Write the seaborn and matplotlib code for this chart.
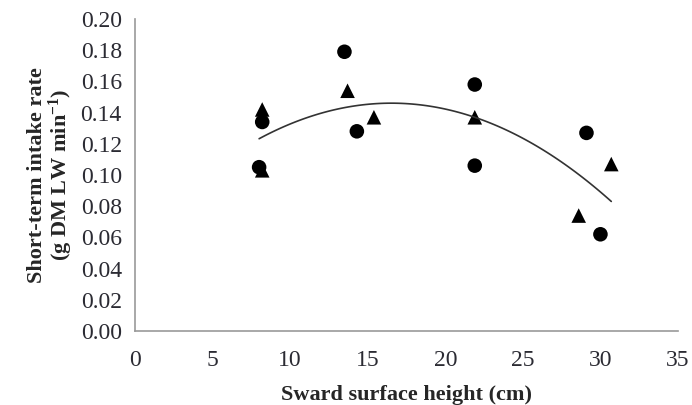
import pandas as pd
import numpy as np
import seaborn as sns
import matplotlib.pyplot as plt

# circles
circle_x = [8.2, 8.0, 13.5, 14.3, 21.9, 21.9, 29.1, 30.0]
circle_y = [0.134, 0.105, 0.179, 0.128, 0.158, 0.106, 0.127, 0.062]
# triangles
tri_x = [8.2, 8.2, 13.7, 15.4, 21.9, 28.6, 30.7]
tri_y = [0.142, 0.103, 0.154, 0.137, 0.137, 0.074, 0.107]

df = pd.DataFrame({
    'SSH': circle_x + tri_x,
    'Rate': circle_y + tri_y,
    'Group': ['c'] * len(circle_x) + ['t'] * len(tri_x),
})

sns.set_style("white")
plt.rcParams['font.family'] = ['Liberation Serif', 'DejaVu Serif']
plt.rcParams['mathtext.default'] = 'regular'

fig = plt.figure(figsize=(6.92, 4.05), dpi=100)
ax = fig.add_axes([135 / 692, 1 - 331 / 405, 543 / 692, 312 / 405])

sns.regplot(data=df, x='SSH', y='Rate', order=2, ci=None, scatter=False,
            color='#333333', line_kws={'linewidth': 1.2}, ax=ax)
sns.scatterplot(data=df[df['Group'] == 'c'], x='SSH', y='Rate', marker='o',
                color='black', s=110, edgecolor='none', ax=ax)
sns.scatterplot(data=df[df['Group'] == 't'], x='SSH', y='Rate', marker='^',
                color='black', s=110, edgecolor='none', ax=ax)

ax.set_xlim(0, 35)
ax.set_ylim(0, 0.2)
ax.set_xticks(np.arange(0, 36, 5))
ax.set_yticks(np.arange(0, 0.201, 0.02))
ax.set_yticklabels([f"{v:.2f}" for v in np.arange(0, 0.201, 0.02)])

for s in ['top', 'right']:
    ax.spines[s].set_visible(False)
for s in ['left', 'bottom']:
    ax.spines[s].set_color('#999999')
    ax.spines[s].set_linewidth(1.2)
ax.tick_params(axis='both', direction='out', length=6, width=1.2, color='#999999',
               labelsize=17, labelcolor='#2b2b33')
ax.tick_params(axis='x', pad=8)

ax.set_xlabel("Sward surface height (cm)", fontsize=16, fontweight='bold', labelpad=10)
ax.set_ylabel("Short-term intake rate\n(g DM LW min$^{-1}$)", fontsize=16,
              fontweight='bold', linespacing=1.0, labelpad=4)

plt.savefig("out.png", dpi=100)
